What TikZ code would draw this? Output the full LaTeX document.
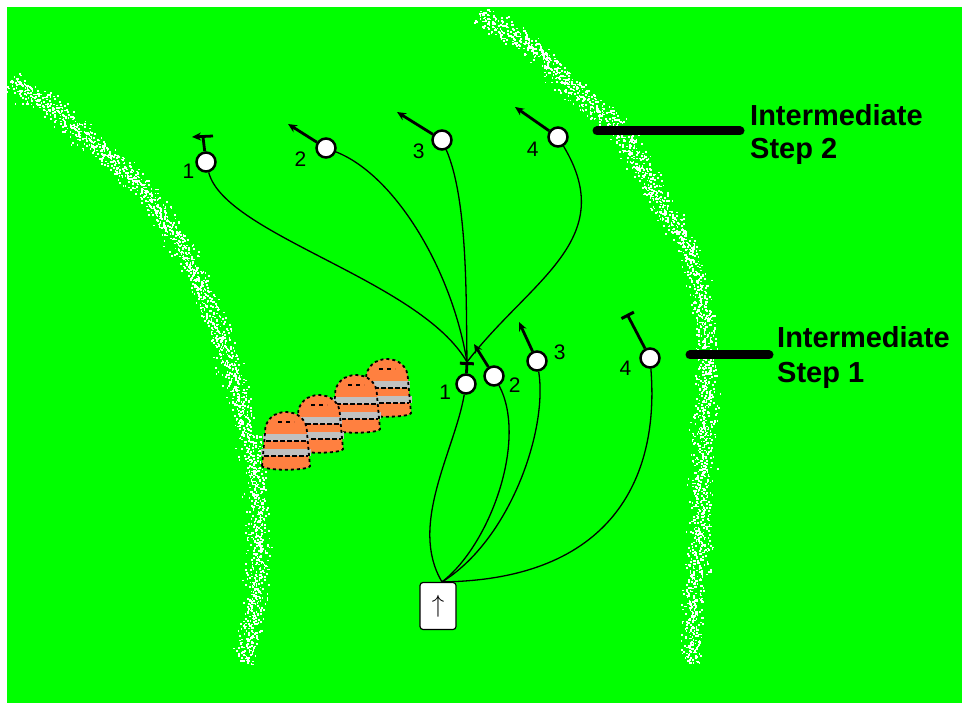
\documentclass[tikz,border=0pt]{standalone}
\usepackage{fontspec}
\setmainfont{Liberation Sans}
\usetikzlibrary{arrows.meta}
\definecolor{turf}{RGB}{0,255,0}
\definecolor{conefill}{RGB}{255,128,64}
\definecolor{bandgrey}{RGB}{192,192,192}

% white speckles scattered along a polyline, given as x/y/x'/y' pieces
\newcommand\chalkline[1]{%
  \foreach \ax/\ay/\bx/\by in {#1} {
    \pgfmathsetmacro\len{veclen(\bx-\ax,\by-\ay)}
    \pgfmathsetmacro\nx{-(\by-\ay)/\len}
    \pgfmathsetmacro\ny{(\bx-\ax)/\len}
    \pgfmathtruncatemacro\n{\len/1.5}
    \foreach \i in {0,...,\n} {
      \pgfmathsetmacro\px{\ax+\i/\n*(\bx-\ax)}
      \pgfmathsetmacro\py{\ay+\i/\n*(\by-\ay)}
      \foreach \k in {1,...,4} {
        \pgfmathsetmacro\off{(rnd+rnd+rnd-1.5)*11}
        \fill[white] ({\px+\off*\nx},{\py+\off*\ny}) rectangle ++(1.7,1.7);
      }
    }
  }}

\begin{document}
\begin{tikzpicture}[x=1pt,y=-1pt,
  player/.style={circle,draw,fill=white,line width=2.5pt,minimum size=19pt,inner sep=0pt},
  num/.style={font=\fontsize{21}{21}\selectfont,inner sep=0pt},
  move/.style={line width=2.8pt,-{Stealth[length=9pt,width=8pt]}},
  block/.style={line width=2.8pt,-{Bar[width=14pt,line width=3pt]}},
  route/.style={line width=1.3pt},
  note/.style={font=\fontsize{29}{33}\selectfont\bfseries,align=left,anchor=base west,inner sep=0pt},
  pointer/.style={line width=9pt,line cap=round},
  qbbox/.style={draw,fill=white,rounded corners=3pt,line width=1.2pt,minimum width=36pt,
    minimum height=47pt,inner sep=0pt,font=\fontsize{34}{34}\selectfont},
  cone/.pic={
    \fill[conefill] (-24,-3) -- (-21,-36) .. controls (-22,-64) and (22,-64) .. (21,-36)
      -- (24,-3) .. controls (22,2) and (-22,2) .. cycle;
    \fill[bandgrey] (-23,-35) rectangle (23,-28);
    \fill[bandgrey] (-25,-20) rectangle (25,-13);
    \draw[line width=1.8pt,dash pattern=on 5pt off 2pt] (-20,-28) -- (20,-28) (-22,-13) -- (22,-13);
    \draw[line width=1.8pt,dash pattern=on 3pt off 3pt] (-24,-3) -- (-21,-36)
      .. controls (-22,-64) and (22,-64) .. (21,-36)
      -- (24,-3) .. controls (22,2) and (-22,2) .. cycle;
    \draw[line width=1.6pt,dash pattern=on 4pt off 4pt] (-8,-47) -- (8,-47);
  }]
\useasboundingbox (0,0) rectangle (962,703);
\fill[white] (0,0) rectangle (962,703);
\fill[turf] (7,7) rectangle (962,703);

% side lines
\pgfmathsetseed{11}
\chalkline{10/82/50/107, 50/107/100/150, 100/150/133/177, 133/177/160/210,
  160/210/183/250, 183/250/200/283, 200/283/220/337, 220/337/240/400,
  240/400/255/470, 255/470/257/550, 257/550/255/600, 255/600/243/662}
\chalkline{478/15/530/45, 530/45/573/90, 573/90/617/123, 617/123/653/190,
  653/190/690/250, 690/250/705/317, 705/317/707/367, 707/367/703/433,
  703/433/700/533, 700/533/693/600, 693/600/690/662}

% cones, back to front
\pic at (387,416) {cone};
\pic at (356,432) {cone};
\pic at (319,452) {cone};
\pic at (286,469) {cone};

% quarterback
\node[qbbox] (qb) at (438,606) {$\uparrow$};
\coordinate (snap) at ([xshift=4pt]qb.north);

% intermediate step 1
\node[player,label={[num,label distance=4pt]183:1}] (mid1) at (466,384) {};
\node[player,label={[num,label distance=4pt]-5:2}] (mid2) at (494,376) {};
\node[player,label={[num,label distance=6pt]5:3}] (mid3) at (537,361) {};
\node[player,label={[num,label distance=8pt]190:4}] (mid4) at (650,358) {};

% intermediate step 2
\node[player,label={[num,label distance=1pt]190:1}] (top1) at (206,162) {};
\node[player,label={[num,label distance=9pt]191:2}] (top2) at (326,148) {};
\node[player,label={[num,label distance=7pt]192:3}] (top3) at (442,140) {};
\node[player,label={[num,label distance=9pt]193:4}] (top4) at (558,137) {};

\coordinate (mid1 tip) at (467,362);
\coordinate (mid2 tip) at (474,344);
\coordinate (mid3 tip) at (519,322);
\coordinate (mid4 tip) at (627,314);
\coordinate (top1 tip) at (203,137);
\coordinate (top2 tip) at (288,124);
\coordinate (top3 tip) at (397,112);
\coordinate (top4 tip) at (515,107);

% routes
\draw[route] (snap) .. controls (408,525) and (455,450) .. (mid1);
\draw[route] (snap) .. controls (490,545) and (528,440) .. (mid2);
\draw[route] (snap) .. controls (510,540) and (548,430) .. (mid3);
\draw[route] (snap) .. controls (610,580) and (660,480) .. (mid4);

\draw[route] (top1) .. controls (225,235) and (420,280) .. (mid1 tip);
\draw[route] (top2) .. controls (395,175) and (452,270) .. (mid1 tip);
\draw[route] (top3) .. controls (468,200) and (466,300) .. (mid1 tip);
\draw[route] (top4) .. controls (620,240) and (530,280) .. (mid1 tip);

% moves
\draw[block] (mid1) -- (mid1 tip);
\draw[move] (mid2) -- (mid2 tip);
\draw[move] (mid3) -- (mid3 tip);
\draw[block] (mid4) -- (mid4 tip);
\draw[line width=2.8pt] (top1) -- (top1 tip);
\draw[move] (top1 tip) ++(10,-1) -- ++(-21,1);
\draw[move] (top2) -- (top2 tip);
\draw[move] (top3) -- (top3 tip);
\draw[move] (top4) -- (top4 tip);

% labels (base is the second line)
\node[note] (lab2) at (750,159) {Intermediate\\Step 2};
\node[note] (lab1) at (777,383) {Intermediate\\[2pt]Step 1};
\coordinate (bar2) at (597,131);
\coordinate (bar1) at (690,355);
\draw[pointer] (bar2) -- ([xshift=-10pt]lab2.base west |- bar2);
\draw[pointer] (bar1) -- ([xshift=-8pt]lab1.base west |- bar1);
\end{tikzpicture}
\end{document}
